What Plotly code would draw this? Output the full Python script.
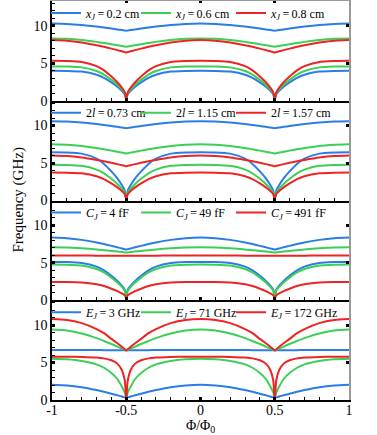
import plotly.graph_objects as go

# flux grid (Phi/Phi0)
phi = [-1, -0.9, -0.8, -0.7, -0.65, -0.6, -0.56, -0.53, -0.51, -0.5, -0.49, -0.47, -0.44, -0.4,
       -0.35, -0.3, -0.2, -0.1, 0, 0.1, 0.2, 0.3, 0.35, 0.4, 0.44, 0.47, 0.49, 0.5, 0.51, 0.53,
       0.56, 0.6, 0.65, 0.7, 0.8, 0.9, 1]

# ---- panel 1: x_J ----
p1_labels = ["<i>x</i><sub><i>J</i></sub>\u2009=\u20090.2 cm", "<i>x</i><sub><i>J</i></sub>\u2009=\u20090.6 cm", "<i>x</i><sub><i>J</i></sub>\u2009=\u20090.8 cm"]
p1_upper_blue = [10.30, 10.25, 10.11, 9.90, 9.77, 9.63, 9.51, 9.42, 9.36, 9.33, 9.36, 9.42, 9.51, 9.63, 9.77, 9.90, 10.11, 10.25, 10.30, 10.25, 10.11, 9.90, 9.77, 9.63, 9.51, 9.42, 9.36, 9.33, 9.36, 9.42, 9.51, 9.63, 9.77, 9.90, 10.11, 10.25, 10.30]
p1_upper_green = [8.31, 8.26, 8.10, 7.85, 7.70, 7.54, 7.41, 7.30, 7.23, 7.20, 7.23, 7.30, 7.41, 7.54, 7.70, 7.85, 8.10, 8.26, 8.31, 8.26, 8.10, 7.85, 7.70, 7.54, 7.41, 7.30, 7.23, 7.20, 7.23, 7.30, 7.41, 7.54, 7.70, 7.85, 8.10, 8.26, 8.31]
p1_upper_red = [8.09, 8.01, 7.77, 7.41, 7.19, 6.95, 6.75, 6.60, 6.49, 6.44, 6.49, 6.60, 6.75, 6.95, 7.19, 7.41, 7.77, 8.01, 8.09, 8.01, 7.77, 7.41, 7.19, 6.95, 6.75, 6.60, 6.49, 6.44, 6.49, 6.60, 6.75, 6.95, 7.19, 7.41, 7.77, 8.01, 8.09]
p1_lower_blue = [4.00, 3.98, 3.89, 3.47, 3.05, 2.44, 1.87, 1.34, 0.88, 0.20, 0.88, 1.34, 1.87, 2.44, 3.05, 3.47, 3.89, 3.98, 4.00, 3.98, 3.89, 3.47, 3.05, 2.44, 1.87, 1.34, 0.88, 0.20, 0.88, 1.34, 1.87, 2.44, 3.05, 3.47, 3.89, 3.98, 4.00]
p1_lower_green = [4.58, 4.56, 4.45, 3.97, 3.49, 2.78, 2.13, 1.51, 0.99, 0.20, 0.99, 1.51, 2.13, 2.78, 3.49, 3.97, 4.45, 4.56, 4.58, 4.56, 4.45, 3.97, 3.49, 2.78, 2.13, 1.51, 0.99, 0.20, 0.99, 1.51, 2.13, 2.78, 3.49, 3.97, 4.45, 4.56, 4.58]
p1_lower_red = [5.33, 5.30, 5.18, 4.61, 4.05, 3.23, 2.46, 1.74, 1.12, 0.20, 1.12, 1.74, 2.46, 3.23, 4.05, 4.61, 5.18, 5.30, 5.33, 5.30, 5.18, 4.61, 4.05, 3.23, 2.46, 1.74, 1.12, 0.20, 1.12, 1.74, 2.46, 3.23, 4.05, 4.61, 5.18, 5.30, 5.33]

# ---- panel 2: 2l ----
p2_labels = ["2<i>l</i>\u2009=\u20090.73 cm", "2<i>l</i>\u2009=\u20091.15 cm", "2<i>l</i>\u2009=\u20091.57 cm"]
p2_upper_blue = [10.58, 10.53, 10.40, 10.19, 10.07, 9.93, 9.82, 9.73, 9.67, 9.64, 9.67, 9.73, 9.82, 9.93, 10.07, 10.19, 10.40, 10.53, 10.58, 10.53, 10.40, 10.19, 10.07, 9.93, 9.82, 9.73, 9.67, 9.64, 9.67, 9.73, 9.82, 9.93, 10.07, 10.19, 10.40, 10.53, 10.58]
p2_upper_green = [7.51, 7.45, 7.27, 7.00, 6.83, 6.65, 6.50, 6.39, 6.31, 6.27, 6.31, 6.39, 6.50, 6.65, 6.83, 7.00, 7.27, 7.45, 7.51, 7.45, 7.27, 7.00, 6.83, 6.65, 6.50, 6.39, 6.31, 6.27, 6.31, 6.39, 6.50, 6.65, 6.83, 7.00, 7.27, 7.45, 7.51]
p2_upper_red = [6.00, 5.93, 5.73, 5.41, 5.22, 5.02, 4.85, 4.71, 4.62, 4.58, 4.62, 4.71, 4.85, 5.02, 5.22, 5.41, 5.73, 5.93, 6.00, 5.93, 5.73, 5.41, 5.22, 5.02, 4.85, 4.71, 4.62, 4.58, 4.62, 4.71, 4.85, 5.02, 5.22, 5.41, 5.73, 5.93, 6.00]
p2_lower_blue = [6.44, 6.41, 6.25, 5.57, 4.88, 3.88, 2.95, 2.07, 1.32, 0.20, 1.32, 2.07, 2.95, 3.88, 4.88, 5.57, 6.25, 6.41, 6.44, 6.41, 6.25, 5.57, 4.88, 3.88, 2.95, 2.07, 1.32, 0.20, 1.32, 2.07, 2.95, 3.88, 4.88, 5.57, 6.25, 6.41, 6.44]
p2_lower_green = [4.76, 4.74, 4.62, 4.12, 3.62, 2.89, 2.21, 1.57, 1.02, 0.20, 1.02, 1.57, 2.21, 2.89, 3.62, 4.12, 4.62, 4.74, 4.76, 4.74, 4.62, 4.12, 3.62, 2.89, 2.21, 1.57, 1.02, 0.20, 1.02, 1.57, 2.21, 2.89, 3.62, 4.12, 4.62, 4.74, 4.76]
p2_lower_red = [3.73, 3.71, 3.62, 3.24, 2.85, 2.28, 1.75, 1.26, 0.84, 0.20, 0.84, 1.26, 1.75, 2.28, 2.85, 3.24, 3.62, 3.71, 3.73, 3.71, 3.62, 3.24, 2.85, 2.28, 1.75, 1.26, 0.84, 0.20, 0.84, 1.26, 1.75, 2.28, 2.85, 3.24, 3.62, 3.71, 3.73]

# ---- panel 3: C_J ----
p3_labels = ["<i>C</i><sub><i>J</i></sub>\u2009=\u20094 fF", "<i>C</i><sub><i>J</i></sub>\u2009=\u200949 fF", "<i>C</i><sub><i>J</i></sub>\u2009=\u2009491 fF"]
p3_upper_blue = [8.36, 8.28, 8.05, 7.70, 7.49, 7.25, 7.06, 6.91, 6.81, 6.76, 6.81, 6.91, 7.06, 7.25, 7.49, 7.70, 8.05, 8.28, 8.36, 8.28, 8.05, 7.70, 7.49, 7.25, 7.06, 6.91, 6.81, 6.76, 6.81, 6.91, 7.06, 7.25, 7.49, 7.70, 8.05, 8.28, 8.36]
p3_upper_green = [7.07, 7.04, 6.93, 6.78, 6.68, 6.58, 6.49, 6.43, 6.38, 6.36, 6.38, 6.43, 6.49, 6.58, 6.68, 6.78, 6.93, 7.04, 7.07, 7.04, 6.93, 6.78, 6.68, 6.58, 6.49, 6.43, 6.38, 6.36, 6.38, 6.43, 6.49, 6.58, 6.68, 6.78, 6.93, 7.04, 7.07]
p3_upper_red = [5.97, 5.97, 5.96, 5.95, 5.95, 5.94, 5.94, 5.93, 5.93, 5.93, 5.93, 5.93, 5.94, 5.94, 5.95, 5.95, 5.96, 5.97, 5.97, 5.97, 5.96, 5.95, 5.95, 5.94, 5.94, 5.93, 5.93, 5.93, 5.93, 5.93, 5.94, 5.94, 5.95, 5.95, 5.96, 5.97, 5.97]
p3_lower_blue = [5.11, 5.09, 4.97, 4.48, 3.98, 3.26, 2.58, 1.95, 1.41, 0.60, 1.41, 1.95, 2.58, 3.26, 3.98, 4.48, 4.97, 5.09, 5.11, 5.09, 4.97, 4.48, 3.98, 3.26, 2.58, 1.95, 1.41, 0.60, 1.41, 1.95, 2.58, 3.26, 3.98, 4.48, 4.97, 5.09, 5.11]
p3_lower_green = [4.76, 4.74, 4.63, 4.16, 3.70, 3.01, 2.37, 1.78, 1.27, 0.50, 1.27, 1.78, 2.37, 3.01, 3.70, 4.16, 4.63, 4.74, 4.76, 4.74, 4.63, 4.16, 3.70, 3.01, 2.37, 1.78, 1.27, 0.50, 1.27, 1.78, 2.37, 3.01, 3.70, 4.16, 4.63, 4.74, 4.76]
p3_lower_red = [2.44, 2.43, 2.37, 2.13, 1.89, 1.54, 1.21, 0.91, 0.64, 0.25, 0.64, 0.91, 1.21, 1.54, 1.89, 2.13, 2.37, 2.43, 2.44, 2.43, 2.37, 2.13, 1.89, 1.54, 1.21, 0.91, 0.64, 0.25, 0.64, 0.91, 1.21, 1.54, 1.89, 2.13, 2.37, 2.43, 2.44]

# ---- panel 4: E_J ----
p4_labels = ["<i>E</i><sub><i>J</i></sub>\u2009=\u20093 GHz", "<i>E</i><sub><i>J</i></sub>\u2009=\u200971 GHz", "<i>E</i><sub><i>J</i></sub>\u2009=\u2009172 GHz"]
p4_upper_blue = [6.67, 6.67, 6.67, 6.66, 6.65, 6.64, 6.63, 6.62, 6.62, 6.62, 6.62, 6.62, 6.63, 6.64, 6.65, 6.66, 6.67, 6.67, 6.67, 6.67, 6.67, 6.66, 6.65, 6.64, 6.63, 6.62, 6.62, 6.62, 6.62, 6.62, 6.63, 6.64, 6.65, 6.66, 6.67, 6.67, 6.67]
p4_upper_green = [9.40, 9.26, 8.87, 8.25, 7.87, 7.47, 7.12, 6.86, 6.69, 6.60, 6.69, 6.86, 7.12, 7.47, 7.87, 8.25, 8.87, 9.26, 9.40, 9.26, 8.87, 8.25, 7.87, 7.47, 7.12, 6.86, 6.69, 6.60, 6.69, 6.86, 7.12, 7.47, 7.87, 8.25, 8.87, 9.26, 9.40]
p4_upper_red = [10.80, 10.67, 10.25, 9.46, 8.91, 8.15, 7.57, 7.10, 6.77, 6.60, 6.77, 7.10, 7.57, 8.15, 8.91, 9.46, 10.25, 10.67, 10.80, 10.67, 10.25, 9.46, 8.91, 8.15, 7.57, 7.10, 6.77, 6.60, 6.77, 7.10, 7.57, 8.15, 8.91, 9.46, 10.25, 10.67, 10.80]
p4_lower_blue = [2.04, 1.95, 1.71, 1.32, 1.09, 0.84, 0.63, 0.46, 0.35, 0.30, 0.35, 0.46, 0.63, 0.84, 1.09, 1.32, 1.71, 1.95, 2.04, 1.95, 1.71, 1.32, 1.09, 0.84, 0.63, 0.46, 0.35, 0.30, 0.35, 0.46, 0.63, 0.84, 1.09, 1.32, 1.71, 1.95, 2.04]
p4_lower_green = [5.50, 5.42, 5.20, 4.75, 4.30, 3.60, 2.80, 1.80, 1.00, 0.30, 1.00, 1.80, 2.80, 3.60, 4.30, 4.75, 5.20, 5.42, 5.50, 5.42, 5.20, 4.75, 4.30, 3.60, 2.80, 1.80, 1.00, 0.30, 1.00, 1.80, 2.80, 3.60, 4.30, 4.75, 5.20, 5.42, 5.50]
p4_lower_red = [5.78, 5.78, 5.75, 5.66, 5.55, 5.30, 4.85, 4.00, 2.60, 0.05, 2.60, 4.00, 4.85, 5.30, 5.55, 5.66, 5.75, 5.78, 5.78, 5.78, 5.75, 5.66, 5.55, 5.30, 4.85, 4.00, 2.60, 0.05, 2.60, 4.00, 4.85, 5.30, 5.55, 5.66, 5.75, 5.78, 5.78]

x_ticks = [-1, -0.5, 0, 0.5, 1]
x_ticktext = ["-1", "-0.5", "0", "0.5", "1"]
y_ticks = [0, 5, 10]

BLUE = "#2b7de6"
GREEN = "#3ccf55"
RED = "#ee2424"
FONT = "Liberation Serif"

panels = [
    (p1_labels, [p1_lower_blue, p1_lower_green, p1_lower_red], [p1_upper_blue, p1_upper_green, p1_upper_red]),
    (p2_labels, [p2_lower_blue, p2_lower_green, p2_lower_red], [p2_upper_blue, p2_upper_green, p2_upper_red]),
    (p3_labels, [p3_lower_blue, p3_lower_green, p3_lower_red], [p3_upper_blue, p3_upper_green, p3_upper_red]),
    (p4_labels, [p4_lower_blue, p4_lower_green, p4_lower_red], [p4_upper_blue, p4_upper_green, p4_upper_red]),
]
colors = [BLUE, GREEN, RED]

W, H = 377, 435
ML, MR, MT, MB = 52, 28, 1, 35
PW, PH = W - ML - MR, H - MT - MB
YMAX = 13.3
# legend item origins (px from left of page): symbol drawn 5..35 px after origin, text at +40
legend_origin_px = [46, 136, 231]

fig = go.Figure()
layout = dict(width=W, height=H, margin=dict(l=ML, r=MR, t=MT, b=MB, autoexpand=False),
              plot_bgcolor="white", paper_bgcolor="white",
              font=dict(family=FONT, size=14, color="black"))

for i, (labels, lowers, uppers) in enumerate(panels):
    n = i + 1
    xa = "x" if n == 1 else f"x{n}"
    ya = "y" if n == 1 else f"y{n}"
    top = 1 - i * 0.25
    bot = 1 - (i + 1) * 0.25
    for j, (c, lab, lo, up) in enumerate(zip(colors, labels, lowers, uppers)):
        k = 3 * i + j + 1
        lg = "legend" if k == 1 else f"legend{k}"
        fig.add_trace(go.Scatter(x=phi, y=up, xaxis=xa, yaxis=ya, mode="lines",
                                 line=dict(color=c, width=2, shape="spline", smoothing=0.6),
                                 showlegend=False, legendgroup=f"g{k}", legend=lg, hoverinfo="skip"))
        fig.add_trace(go.Scatter(x=phi, y=lo, xaxis=xa, yaxis=ya, mode="lines",
                                 line=dict(color=c, width=2, shape="spline", smoothing=0.6),
                                 name=lab, showlegend=True, legendgroup=f"g{k}", legend=lg))
        layout[lg] = dict(x=(legend_origin_px[j] - ML) / PW, xanchor="left",
                          y=top + 2.5 / PH, yanchor="top",
                          bgcolor="rgba(0,0,0,0)", borderwidth=0,
                          font=dict(family=FONT, size=12), itemclick=False, itemdoubleclick=False)
    # dummy traces for the mirror axes (top and right)
    fig.add_trace(go.Scatter(x=[None], y=[None], xaxis=f"x{n+4}", yaxis=f"y{n+4}",
                             showlegend=False, hoverinfo="skip"))

    ykey = "yaxis" if n == 1 else f"yaxis{n}"
    xkey = "xaxis" if n == 1 else f"xaxis{n}"
    layout[xkey] = dict(domain=[0, 1], anchor=ya, range=[-1, 1],
                        showline=True, linecolor="black", linewidth=2,
                        ticks="inside", tickvals=x_ticks, ticktext=x_ticktext,
                        ticklen=3, tickwidth=3, tickcolor="black",
                        showticklabels=(n == 4), showgrid=False, zeroline=False,
                        ticklabelstandoff=-4,
                        minor=dict(dtick=0.1, tick0=0, ticks="inside", ticklen=3, tickwidth=1,
                                   tickcolor="black", showgrid=False),
                        tickfont=dict(size=14))
    layout[ykey] = dict(domain=[bot, top], anchor=xa, range=[0, YMAX],
                        showline=True, linecolor="black", linewidth=1.5,
                        ticks="inside", tickvals=y_ticks, ticklen=3, tickwidth=3,
                        tickcolor="black", showgrid=False, zeroline=False,
                        minor=dict(dtick=1, tick0=0, ticks="inside", ticklen=3, tickwidth=1,
                                   tickcolor="black", showgrid=False),
                        tickfont=dict(size=14))
    # top mirror axis
    layout[f"xaxis{n+4}"] = dict(overlaying=xa, side="top", anchor=f"y{n+4}", range=[-1, 1],
                                 showline=(n == 1), linecolor="#9a9a9a", linewidth=1,
                                 ticks="inside", tickvals=x_ticks, ticklen=2, tickwidth=3,
                                 tickcolor="black", showticklabels=False, showgrid=False,
                                 zeroline=False)
    # right mirror axis
    layout[f"yaxis{n+4}"] = dict(overlaying=ya, side="right", anchor=f"x{n+4}", range=[0, YMAX],
                                 showline=True, linecolor="#9a9a9a", linewidth=2,
                                 ticks="inside", tickvals=y_ticks, ticklen=3, tickwidth=3,
                                 tickcolor="black", showticklabels=False, showgrid=False,
                                 zeroline=False)

layout["annotations"] = [
    dict(text="Frequency (GHz)", xref="paper", yref="paper", x=(18 - ML) / PW, y=0.5,
         textangle=-90, showarrow=False, font=dict(family=FONT, size=15), xanchor="center", yanchor="middle"),
    dict(text="\u03a6/\u03a6<sub>0</sub>", xref="paper", yref="paper", x=0.5,
         y=-(426.5 - (H - MB)) / PH, showarrow=False, font=dict(family=FONT, size=14),
         xanchor="center", yanchor="middle"),
]

fig.update_layout(**layout)
fig.write_html("out.html", config={"displayModeBar": False},
               post_script="document.body.style.margin='0px';")
